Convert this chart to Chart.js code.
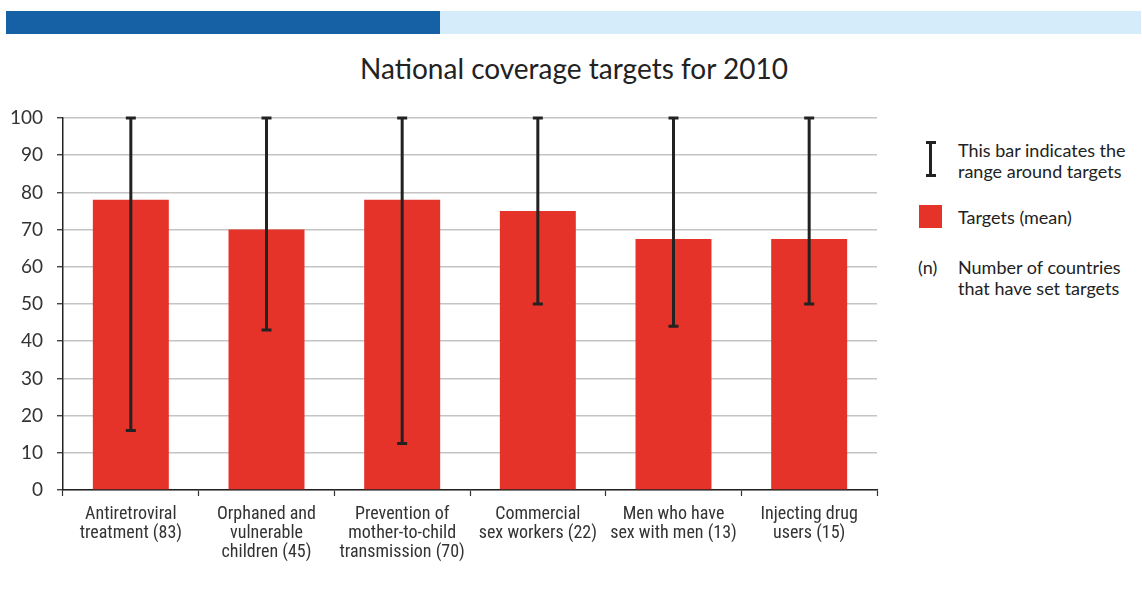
<!DOCTYPE html>
<html>
<head>
<meta charset="utf-8">
<script src="https://cdn.jsdelivr.net/npm/chart.js@4/dist/chart.umd.min.js"></script>
<style>
  html, body { margin:0; padding:0; background:#fff; }
  body { width:1142px; height:590px; position:relative; overflow:hidden; font-family:Lato, "Noto Sans", sans-serif; color:#222; }
  .band1 { position:absolute; left:6px; top:11px; width:434px; height:23px; background:#1660a5; }
  .band2 { position:absolute; left:440px; top:11px; width:701px; height:23px; background:#d5ecfb; }
  .title { position:absolute; left:0; top:51px; width:1148px; text-align:center; font-size:28px; color:#222; }
  #wrap { position:absolute; left:0; top:100px; width:900px; height:490px; }
  .leg { position:absolute; font-size:18px; line-height:21px; color:#222; }
  .ibar { position:absolute; left:929px; top:142px; width:3px; height:34px; background:#222; }
  .icap { position:absolute; width:10px; height:3px; background:#222; left:925.5px; }
  .sq { position:absolute; left:919px; top:205px; width:23px; height:23px; background:#e63329; }
</style>
</head>
<body>
<div class="band1"></div><div class="band2"></div>
<div class="title">National coverage targets for 2010</div>
<div id="wrap"><canvas id="c"></canvas></div>

<div class="ibar"></div>
<div class="icap" style="top:141px"></div>
<div class="icap" style="top:174px"></div>
<div class="leg" style="left:958px; top:140px;">This bar indicates the<br>range around targets</div>
<div class="sq"></div>
<div class="leg" style="left:958px; top:207px;">Targets (mean)</div>
<div class="leg" style="left:918px; top:257px;">(n)</div>
<div class="leg" style="left:958px; top:257px;">Number of countries<br>that have set targets</div>

<script>
const categories = [
  ["Antiretroviral", "treatment (83)"],
  ["Orphaned and", "vulnerable", "children (45)"],
  ["Prevention of", "mother-to-child", "transmission (70)"],
  ["Commercial", "sex workers (22)"],
  ["Men who have", "sex with men (13)"],
  ["Injecting drug", "users (15)"]
];
const targetMean = [78, 70, 78, 75, 67.5, 67.5];
const rangeLow  = [16, 43, 12.5, 50, 44, 50];
const rangeHigh = [100, 100, 100, 100, 100, 100];
const yTicks = [0,10,20,30,40,50,60,70,80,90,100];

const errorBars = {
  id: 'errorBars',
  afterDatasetsDraw(chart) {
    const ctx = chart.ctx;
    const x = chart.scales.x, y = chart.scales.y;
    ctx.save();
    ctx.strokeStyle = '#222';
    ctx.lineWidth = 3;
    ctx.lineCap = 'butt';
    categories.forEach((c, i) => {
      const px = x.getPixelForValue(i);
      const yl = y.getPixelForValue(rangeLow[i]);
      const yh = y.getPixelForValue(rangeHigh[i]);
      ctx.beginPath();
      ctx.moveTo(px, yl); ctx.lineTo(px, yh);
      ctx.moveTo(px - 5, yl); ctx.lineTo(px + 5, yl);
      ctx.moveTo(px - 5, yh); ctx.lineTo(px + 5, yh);
      ctx.stroke();
    });
    ctx.restore();
  }
};

new Chart(document.getElementById('c'), {
  type: 'bar',
  data: {
    labels: categories,
    datasets: [{
      data: targetMean,
      backgroundColor: '#e63329',
      borderWidth: 0,
      barPercentage: 0.56,
      categoryPercentage: 1.0
    }]
  },
  options: {
    responsive: true,
    maintainAspectRatio: false,
    animation: false,
    layout: { padding: { left: 0, right: 23, top: 18, bottom: 0 } },
    plugins: { legend: { display: false }, tooltip: { enabled: false }, title: { display: false } },
    scales: {
      x: {
        afterFit(s) { s.height = 100; s.paddingLeft = 0; s.paddingRight = 0; },
        grid: { offset: true, drawOnChartArea: false, drawTicks: true, tickLength: 6, tickColor: '#333', tickWidth: 1.2 },
        border: { color: '#222', width: 1.5 },
        ticks: {
          color: '#333',
          padding: 9,
          maxRotation: 0, minRotation: 0,
          autoSkip: false,
          font: { family: "'Liberation Sans Narrow', 'Roboto Condensed', Roboto, sans-serif", size: 18, lineHeight: 1.06 }
        }
      },
      y: {
        min: 0, max: 100,
        afterFit(s) { s.width = 63; s.paddingTop = 0; s.paddingBottom = 0; },
        afterBuildTicks(s) { s.ticks = yTicks.map(v => ({ value: v })); },
        grid: { color: '#c4c4c4', lineWidth: 1.5, drawTicks: true, tickLength: 6, tickColor: '#222', tickWidth: 1.2 },
        border: { color: '#222', width: 1.5 },
        ticks: {
          color: '#333',
          padding: 14,
          font: { family: "Lato, 'Noto Sans', sans-serif", size: 19 }
        }
      }
    }
  },
  plugins: [errorBars]
});
</script>
</body>
</html>
